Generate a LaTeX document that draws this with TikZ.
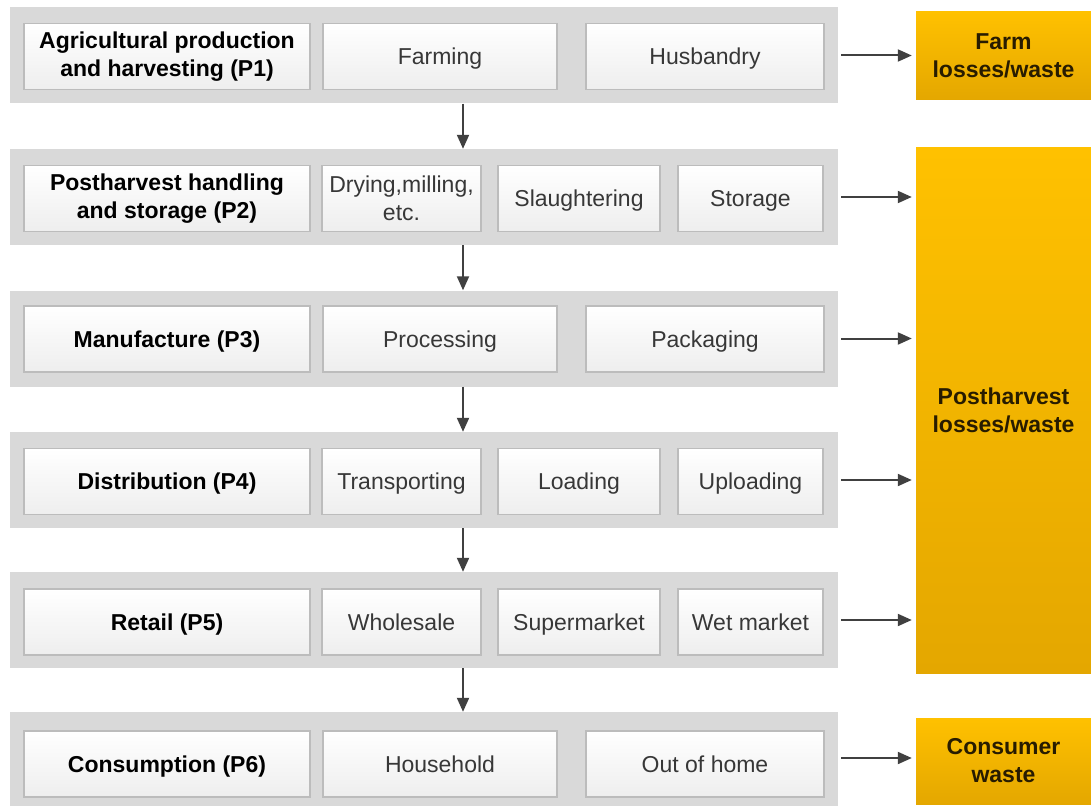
\documentclass[tikz,border=0pt]{standalone}
\usepackage{fontspec}
\setmainfont{Liberation Sans}
\usetikzlibrary{arrows.meta}
\definecolor{bandgr}{RGB}{217,217,217}
\definecolor{cellbd}{RGB}{188,188,188}
\definecolor{celltxt}{RGB}{55,55,55}
\definecolor{ylw}{RGB}{255,193,0}
\definecolor{ylwd}{RGB}{228,167,0}
\definecolor{losstxt}{RGB}{40,28,0}
\definecolor{arr}{RGB}{64,64,64}

\begin{document}
\begin{tikzpicture}[x=1pt, y=-1pt,
    band/.style={fill=bandgr, minimum width=828pt, minimum height=96pt, inner sep=0pt},
    cell/.style={draw=cellbd, line width=1.2pt, top color=white, bottom color=bandgr!45, minimum height=66pt, inner sep=0pt, text=celltxt, align=center, text height=16.5pt, text depth=0pt, font=\fontsize{23}{28}\selectfont},
    head/.style={cell, text=black, font=\fontsize{23}{28}\selectfont\bfseries, minimum width=286pt},
    twoline/.style={text height={}, text depth={}},
    loss/.style={top color=ylw, bottom color=ylwd, minimum width=175pt, inner sep=0pt, align=center, text=losstxt, font=\fontsize{23}{28}\selectfont\bfseries},
    flow/.style={draw=arr, line width=2pt, -{Triangle[length=14pt,width=12pt]}}]
    \useasboundingbox (0,0) rectangle (1091,805);
    % grey bands
    \node[band] (r1) at (424,55.5) {};
    \node[band] (r2) at (424,197) {};
    \node[band] (r3) at (424,338.5) {};
    \node[band] (r4) at (424,480) {};
    \node[band] (r5) at (424,620) {};
    \node[band] (r6) at (424,760) {};
    % P1
    \node[head, twoline] (p1) at (167,56.5) {Agricultural production\\and harvesting (P1)};
    \node[cell, minimum width=234pt] (farming) at (440,56.5) {Farming};
    \node[cell, minimum width=238pt] (husbandry) at (705,56.5) {Husbandry};
    % P2
    \node[head, twoline] (p2) at (167,198.5) {Postharvest handling\\and storage (P2)};
    \node[cell, twoline, minimum width=159pt] (drying) at (401.5,198.5) {Drying,milling,\\etc.};
    \node[cell, minimum width=162pt] (slaughter) at (579,198.5) {Slaughtering};
    \node[cell, minimum width=145pt] (storage) at (750.5,198.5) {Storage};
    % P3
    \node[head] (p3) at (167,339) {Manufacture (P3)};
    \node[cell, minimum width=234pt] (processing) at (440,339) {Processing};
    \node[cell, minimum width=238pt] (packaging) at (705,339) {Packaging};
    % P4
    \node[head] (p4) at (167,481.5) {Distribution (P4)};
    \node[cell, minimum width=159pt] (transport) at (401.5,481.5) {Transporting};
    \node[cell, minimum width=162pt] (loading) at (579,481.5) {Loading};
    \node[cell, minimum width=145pt] (uploading) at (750.5,481.5) {Uploading};
    % P5
    \node[head] (p5) at (167,622) {Retail (P5)};
    \node[cell, minimum width=159pt] (wholesale) at (401.5,622) {Wholesale};
    \node[cell, minimum width=162pt] (supermarket) at (579,622) {Supermarket};
    \node[cell, minimum width=145pt] (wetmarket) at (750.5,622) {Wet market};
    % P6
    \node[head] (p6) at (167,764) {Consumption (P6)};
    \node[cell, minimum width=234pt] (household) at (440,764) {Household};
    \node[cell, minimum width=238pt] (outhome) at (705,764) {Out of home};
    % losses
    \node[loss, minimum height=88pt] (farm) at (1003.5,56) {Farm\\losses/waste};
    \node[loss, minimum height=525pt] (post) at (1003.5,410.5) {Postharvest\\losses/waste};
    \node[loss, minimum height=86pt] (cons) at (1003.5,761) {Consumer\\waste};
    % arrows down the chain
    \foreach \a/\b in {r1/r2,r2/r3,r3/r4,r4/r5,r5/r6}
        \draw[flow] ([xshift=39pt]\a.south) -- ([xshift=39pt]\b.north);
    % arrows to the losses
    \draw[flow, shorten <=3pt, shorten >=4pt] (r1.east) -- (r1.east -| farm.west);
    \foreach \r in {r2,r3,r4,r5}
        \draw[flow, shorten <=3pt, shorten >=4pt] (\r.east) -- (\r.east -| post.west);
    \draw[flow, shorten <=3pt, shorten >=4pt] ([yshift=2pt]r6.east) -- ([yshift=2pt]r6.east -| cons.west);
\end{tikzpicture}
\end{document}
